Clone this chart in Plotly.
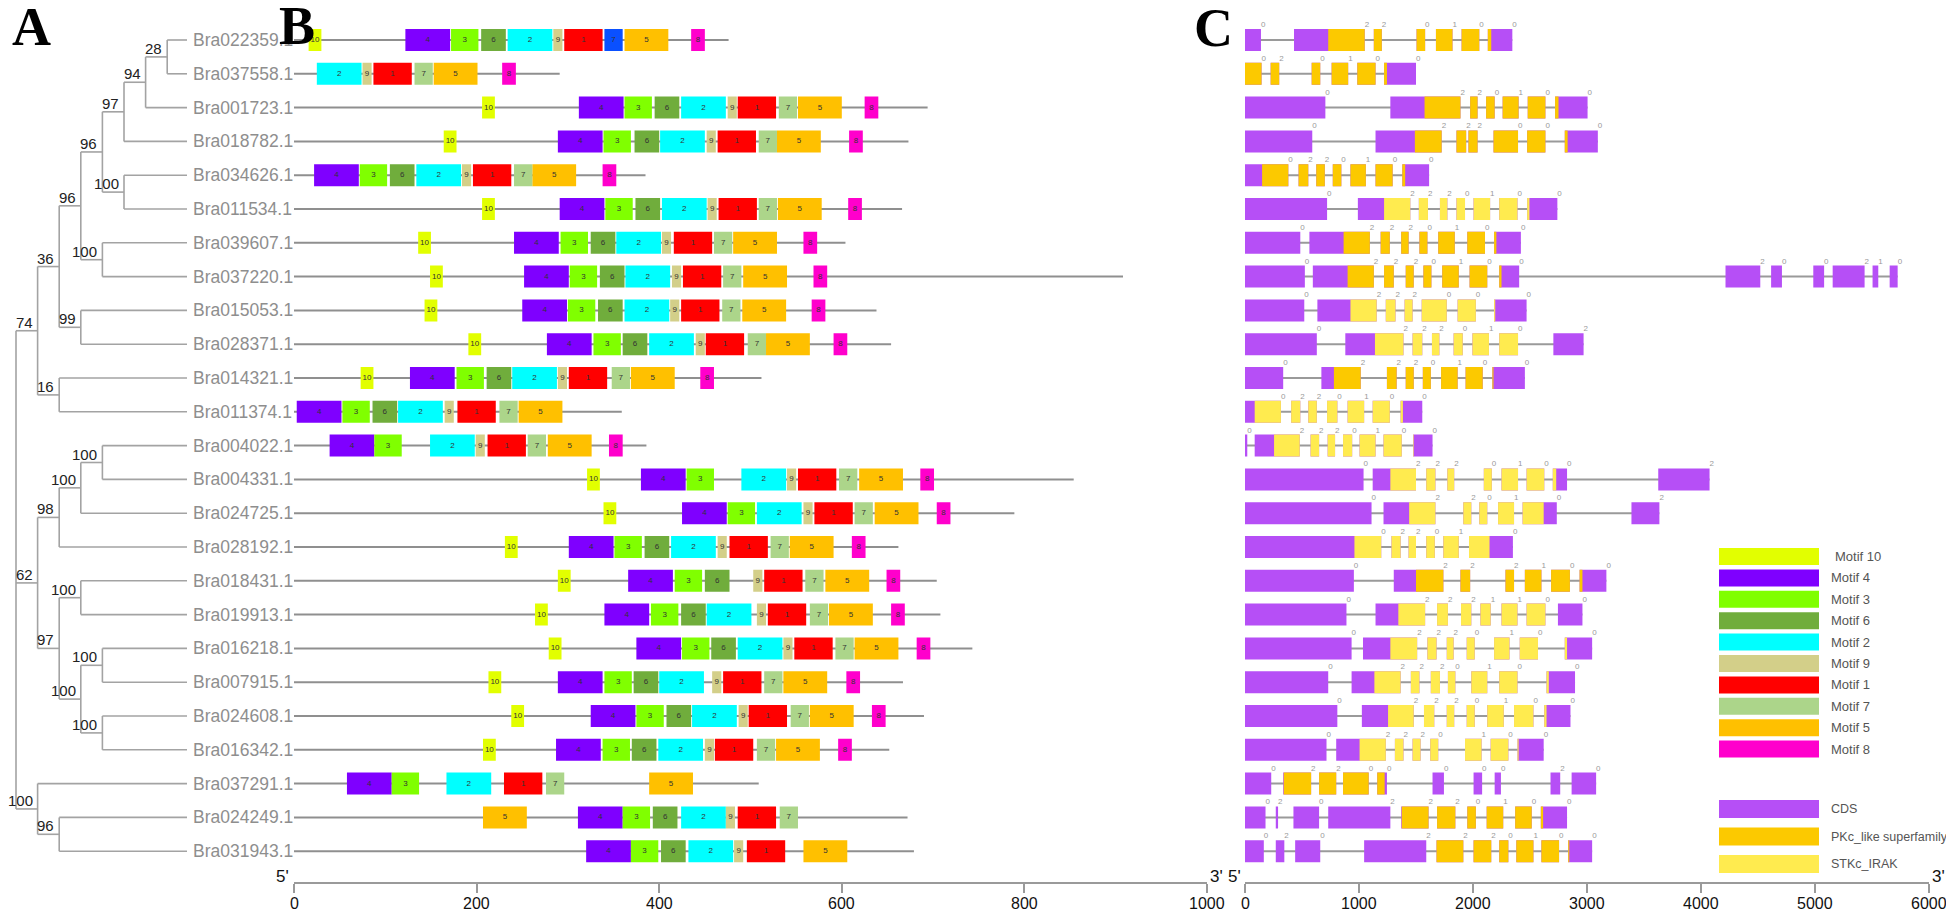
import plotly.graph_objects as go

W, H = 1946, 915

GENES = ["Bra022359.1", "Bra037558.1", "Bra001723.1", "Bra018782.1", "Bra034626.1",
         "Bra011534.1", "Bra039607.1", "Bra037220.1", "Bra015053.1", "Bra028371.1",
         "Bra014321.1", "Bra011374.1", "Bra004022.1", "Bra004331.1", "Bra024725.1",
         "Bra028192.1", "Bra018431.1", "Bra019913.1", "Bra016218.1", "Bra007915.1",
         "Bra024608.1", "Bra016342.1", "Bra037291.1", "Bra024249.1", "Bra031943.1"]

# ---- Panel A: tree topology with bootstrap values ----
TREE = (None, [
    (74, [
        (36, [
            (96, [
                (96, [
                    (97, [
                        (94, [(28, ["Bra022359.1", "Bra037558.1"]), "Bra001723.1"]),
                        "Bra018782.1"]),
                    (100, ["Bra034626.1", "Bra011534.1"])]),
                (100, ["Bra039607.1", "Bra037220.1"])]),
            (99, ["Bra015053.1", "Bra028371.1"])]),
        (16, ["Bra014321.1", "Bra011374.1"])]),
    (62, [
        (98, [
            (100, [(100, ["Bra004022.1", "Bra004331.1"]), "Bra024725.1"]),
            "Bra028192.1"]),
        (97, [
            (100, ["Bra018431.1", "Bra019913.1"]),
            (100, [(100, ["Bra016218.1", "Bra007915.1"]),
                   (100, ["Bra024608.1", "Bra016342.1"])])])]),
    (100, ["Bra037291.1", (96, ["Bra024249.1", "Bra031943.1"])]),
])

# ---- Panel B: protein lengths and motif start positions (aa) ----
PROT_LEN = [476, 291, 694, 673, 385, 666, 604, 908, 638, 654, 512, 359, 386,
            854, 789, 662, 704, 708, 743, 667, 690, 652, 509, 672, 679]

MOTIF_LEN = {1: 42, 2: 49, 3: 30, 4: 49, 5: 48, 6: 27, 7: 20, 8: 15, 9: 10, 10: 14}

MOTIFS = [
    [(10, 16), (4, 122), (3, 172), (6, 205), (2, 234), (9, 284), (1, 296), (7, 340), (5, 362), (8, 435)],
    [(2, 25), (9, 75), (1, 87), (7, 132), (5, 153), (8, 228)],
    [(10, 206), (4, 312), (3, 362), (6, 395), (2, 424), (9, 475), (1, 486), (7, 531), (5, 552), (8, 625)],
    [(10, 164), (4, 289), (3, 339), (6, 373), (2, 401), (9, 452), (1, 464), (7, 509), (5, 529), (8, 608)],
    [(4, 22), (3, 72), (6, 105), (2, 134), (9, 184), (1, 196), (7, 241), (5, 261), (8, 338)],
    [(10, 206), (4, 291), (3, 341), (6, 374), (2, 403), (9, 453), (1, 465), (7, 509), (5, 530), (8, 607)],
    [(10, 136), (4, 241), (3, 292), (6, 325), (2, 353), (9, 403), (1, 416), (7, 460), (5, 481), (8, 558)],
    [(10, 149), (4, 252), (3, 302), (6, 335), (2, 363), (9, 414), (1, 426), (7, 470), (5, 492), (8, 569)],
    [(10, 143), (4, 250), (3, 300), (6, 333), (2, 362), (9, 412), (1, 424), (7, 469), (5, 491), (8, 567)],
    [(10, 191), (4, 277), (3, 328), (6, 360), (2, 389), (9, 440), (1, 451), (7, 497), (5, 517), (8, 591)],
    [(10, 73), (4, 127), (3, 178), (6, 211), (2, 239), (9, 289), (1, 301), (7, 348), (5, 369), (8, 445)],
    [(4, 3), (3, 53), (6, 86), (2, 114), (9, 165), (1, 179), (7, 225), (5, 246)],
    [(4, 39), (3, 88), (2, 149), (9, 199), (1, 212), (7, 256), (5, 278), (8, 345)],
    [(10, 321), (4, 380), (3, 430), (2, 490), (9, 540), (1, 552), (7, 597), (5, 619), (8, 686)],
    [(10, 339), (4, 425), (3, 475), (2, 507), (9, 558), (1, 570), (7, 614), (5, 636), (8, 704)],
    [(10, 231), (4, 301), (3, 351), (6, 384), (2, 413), (9, 464), (1, 477), (7, 522), (5, 543), (8, 611)],
    [(10, 289), (4, 366), (3, 417), (6, 450), (9, 503), (1, 515), (7, 560), (5, 582), (8, 649)],
    [(10, 264), (4, 340), (3, 391), (6, 424), (2, 452), (9, 507), (1, 519), (7, 565), (5, 586), (8, 654)],
    [(10, 279), (4, 375), (3, 425), (6, 457), (2, 486), (9, 536), (1, 548), (7, 593), (5, 614), (8, 682)],
    [(10, 213), (4, 289), (3, 340), (6, 372), (2, 400), (9, 458), (1, 470), (7, 515), (5, 536), (8, 605)],
    [(10, 238), (4, 325), (3, 375), (6, 408), (2, 436), (9, 487), (1, 498), (7, 544), (5, 565), (8, 633)],
    [(10, 207), (4, 287), (3, 338), (6, 370), (2, 399), (9, 450), (1, 461), (7, 507), (5, 528), (8, 596)],
    [(4, 58), (3, 107), (2, 167), (1, 230), (7, 276), (5, 389)],
    [(5, 207), (4, 311), (3, 360), (6, 393), (2, 424), (9, 473), (1, 486), (7, 532)],
    [(4, 320), (3, 369), (6, 402), (2, 432), (9, 482), (1, 496), (5, 558)],
]

MOTIF_COLOR = {10: "#e2ff00", 4: "#7f00ff", 3: "#80ff00", 6: "#70ad3c", 2: "#00ffff",
               9: "#d3cf89", 1: "#ff0000", 7: "#acd58a", 5: "#ffc000", 8: "#ff00cc"}
COLOR_OVERRIDE = {(0, 7): "#0a50ff"}
LEGEND_ORDER = [10, 4, 3, 6, 2, 9, 1, 7, 5, 8]

# ---- Panel C: exon coordinates (bp), intron phases and conserved domain ----
EXONS = [
    [(0, 140), (430, 1050), (1130, 1200), (1505, 1580), (1675, 1820), (1900, 2055), (2130, 2345)],
    [(0, 145), (225, 300), (585, 660), (760, 905), (985, 1145), (1220, 1500)],
    [(0, 705), (1275, 1890), (1975, 2040), (2115, 2190), (2260, 2400), (2480, 2635), (2720, 3005)],
    [(0, 590), (1145, 1725), (1855, 1940), (1960, 2040), (2180, 2395), (2475, 2635), (2805, 3095)],
    [(0, 380), (470, 555), (625, 700), (770, 845), (925, 1060), (1145, 1295), (1380, 1615)],
    [(0, 720), (990, 1450), (1525, 1605), (1710, 1775), (1855, 1930), (2005, 2150), (2230, 2390), (2475, 2740)],
    [(0, 485), (565, 1095), (1190, 1270), (1370, 1435), (1530, 1600), (1695, 1840), (1950, 2105), (2185, 2420)],
    [(0, 525), (595, 1130), (1220, 1305), (1410, 1480), (1565, 1635), (1730, 1875), (1970, 2125), (2230, 2405),
     (4215, 4520), (4615, 4710), (4985, 5080), (5155, 5435), (5505, 5555), (5655, 5725)],
    [(0, 520), (635, 1155), (1235, 1320), (1400, 1470), (1550, 1770), (1865, 2025), (2185, 2470)],
    [(0, 630), (880, 1390), (1470, 1555), (1640, 1705), (1830, 1910), (1995, 2140), (2230, 2395), (2705, 2970)],
    [(0, 335), (670, 1015), (1245, 1330), (1410, 1480), (1560, 1630), (1720, 1865), (1935, 2085), (2170, 2455)],
    [(0, 315), (405, 485), (555, 630), (720, 810), (900, 1045), (1120, 1270), (1365, 1555)],
    [(0, 20), (85, 480), (575, 650), (725, 790), (860, 940), (1005, 1145), (1215, 1375), (1475, 1645)],
    [(0, 1040), (1120, 1500), (1590, 1670), (1775, 1835), (2095, 2165), (2250, 2395), (2470, 2625), (2700, 2825),
     (3625, 4075)],
    [(0, 1110), (1215, 1670), (1915, 1985), (2055, 2125), (2220, 2360), (2435, 2735), (3390, 3635)],
    [(0, 1195), (1285, 1365), (1435, 1500), (1590, 1665), (1740, 1875), (1965, 2350)],
    [(0, 955), (1305, 1740), (1890, 1975), (2285, 2360), (2455, 2600), (2685, 2850), (2935, 3170)],
    [(0, 890), (1145, 1580), (1685, 1780), (1895, 1985), (2065, 2155), (2250, 2390), (2470, 2635), (2745, 2960)],
    [(0, 935), (1035, 1510), (1600, 1680), (1770, 1830), (1945, 2015), (2185, 2320), (2410, 2570), (2805, 3045)],
    [(0, 730), (935, 1365), (1455, 1530), (1630, 1710), (1780, 1845), (1985, 2125), (2230, 2390), (2645, 2895)],
    [(0, 810), (1025, 1480), (1570, 1660), (1770, 1835), (1945, 2015), (2125, 2270), (2360, 2530), (2625, 2855)],
    [(0, 715), (800, 1235), (1315, 1390), (1470, 1540), (1625, 1695), (1930, 2075), (2155, 2310), (2390, 2620)],
    [(0, 230), (335, 580), (650, 800), (860, 1085), (1160, 1245), (1645, 1745), (2005, 2080), (2190, 2245),
     (2680, 2765), (2865, 3080)],
    [(0, 180), (270, 290), (425, 650), (730, 1275), (1370, 1610), (1685, 1845), (1950, 2025), (2120, 2265),
     (2370, 2515), (2595, 2825)],
    [(0, 165), (270, 345), (440, 660), (1045, 1590), (1680, 1915), (2005, 2160), (2230, 2310), (2380, 2530),
     (2600, 2755), (2835, 3045)],
]
PHASES = [
    [0, 2, 2, 0, 1, 0, 0], [0, 2, 0, 1, 0, 0], [0, 2, 2, 0, 1, 0, 0], [0, 2, 2, 2, 0, 0, 0],
    [0, 2, 2, 0, 1, 0, 0], [0, 2, 2, 2, 0, 1, 0, 0], [0, 2, 2, 2, 0, 1, 0, 0],
    [0, 2, 2, 2, 0, 1, 0, 0, 2, 0, 0, 2, 1, 0], [0, 2, 2, 2, 0, 0, 0], [0, 2, 2, 2, 0, 1, 0, 2],
    [0, 2, 2, 2, 0, 1, 0, 0], [0, 2, 2, 0, 1, 0, 0], [0, 2, 2, 2, 0, 1, 0, 0],
    [0, 2, 2, 2, 0, 1, 0, 0, 2], [0, 2, 2, 0, 1, 0, 2], [0, 2, 2, 0, 1, 0], [0, 2, 2, 2, 1, 0, 0],
    [0, 2, 2, 2, 1, 1, 0, 0], [0, 2, 2, 2, 0, 1, 0, 0], [0, 2, 2, 2, 0, 1, 0, 0], [0, 2, 2, 2, 0, 1, 0, 0],
    [0, 2, 2, 2, 0, 1, 0, 0], [0, 2, 2, 0, 0, 0, 0, 0, 2, 0], [0, 2, 0, 2, 2, 2, 0, 1, 0, 0],
    [0, 2, 0, 2, 2, 2, 0, 1, 0, 0],
]
DOMAINS = [
    ("PKc", 730, 2160), ("PKc", 0, 1245), ("PKc", 1575, 2750), ("PKc", 1490, 2830), ("PKc", 150, 1405),
    ("STKc", 1220, 2495), ("PKc", 865, 2205), ("PKc", 900, 2250), ("STKc", 925, 2195), ("STKc", 1140, 2395),
    ("PKc", 780, 2180), ("STKc", 85, 1385), ("STKc", 255, 1480), ("STKc", 1275, 2730), ("STKc", 1440, 2620),
    ("STKc", 960, 2145), ("PKc", 1500, 2960), ("STKc", 1345, 2635), ("STKc", 1275, 2825), ("STKc", 1135, 2665),
    ("STKc", 1255, 2645), ("STKc", 1005, 2400), ("PKc", 340, 1225), ("PKc", 1375, 2615), ("PKc", 1680, 2845),
]
FEATURE_COLOR = {"CDS": "#b64ff6", "PKc": "#fcc900", "STKc": "#ffeb4f"}
FEATURE_NAMES = [("CDS", "CDS"), ("PKc", "PKc_like superfamily"), ("STKc", "STKc_IRAK")]

B_TICKS = [0, 200, 400, 600, 800, 1000]
C_TICKS = [0, 1000, 2000, 3000, 4000, 5000, 6000]

# ---------------- layout geometry (pixels) ----------------
ROW0, ROWH = 40.0, 33.8
Y_TOP = -ROW0 / ROWH
Y_BOT = (H - ROW0) / ROWH
HALF = 0.325
AXIS_Y = 883
B_X0, B_X1 = 294, 1207
C_X0, C_X1 = 1245, 1929
TREE_X0, TREE_DX, LEAF_X = 16, 21.6, 187
SANS = "Liberation Sans, Arial, sans-serif"

fig = go.Figure()
annotations = []
shapes = []

# ---------------- Panel A ----------------
tx, ty = [], []


def place(node, depth):
    if isinstance(node, str):
        return GENES.index(node), True
    boot, children = node
    x = TREE_X0 + TREE_DX * depth
    res = [place(c, depth + 1) for c in children]
    ys = [r[0] for r in res]
    tx.extend([x, x, None])
    ty.extend([ys[0], ys[-1], None])
    for (cy, leaf) in res:
        cx = LEAF_X if leaf else TREE_X0 + TREE_DX * (depth + 1)
        tx.extend([x, cx, None])
        ty.extend([cy, cy, None])
    y = (ys[0] + ys[-1]) / 2.0
    if boot is not None:
        annotations.append(dict(x=x, y=y, xref="x", yref="y", text=str(boot), showarrow=False,
                                xanchor="right", yanchor="bottom", xshift=-3, yshift=-2,
                                font=dict(family=SANS, size=15, color="#222222")))
    return y, False


place(TREE, 0)
fig.add_trace(go.Scatter(x=tx, y=ty, mode="lines", line=dict(color="#a3a3a3", width=1.6),
                         hoverinfo="skip", xaxis="x", yaxis="y"))
for i, g in enumerate(GENES):
    annotations.append(dict(x=LEAF_X + 4, y=i, xref="x", yref="y", text=g, showarrow=False,
                            xanchor="left", yanchor="middle",
                            font=dict(family=SANS, size=17.5, color="#8e8e8e")))

# ---------------- Panel B ----------------
lx, ly = [], []
for i, L in enumerate(PROT_LEN):
    lx.extend([0, L, None])
    ly.extend([i, i, None])
fig.add_trace(go.Scatter(x=lx, y=ly, mode="lines", line=dict(color="#8f8f8f", width=2),
                         hoverinfo="skip", xaxis="x2", yaxis="y"))

polys = {}
lab_x, lab_y, lab_t = [], [], []
for i, row in enumerate(MOTIFS):
    for m, s in row:
        c = COLOR_OVERRIDE.get((i, m), MOTIF_COLOR[m])
        e = s + MOTIF_LEN[m]
        px, py = polys.setdefault(c, ([], []))
        px.extend([s, e, e, s, s, None])
        py.extend([i - HALF, i - HALF, i + HALF, i + HALF, i - HALF, None])
        lab_x.append((s + e) / 2)
        lab_y.append(i)
        lab_t.append(str(m))
for c, (px, py) in polys.items():
    fig.add_trace(go.Scatter(x=px, y=py, mode="lines", fill="toself", fillcolor=c,
                             line=dict(width=0, color=c), hoverinfo="skip", xaxis="x2", yaxis="y"))
fig.add_trace(go.Scatter(x=lab_x, y=lab_y, mode="text", text=lab_t,
                         textfont=dict(family=SANS, size=8, color="#333333"),
                         hoverinfo="skip", xaxis="x2", yaxis="y"))

# ---------------- Panel C ----------------
ix, iy = [], []
for i, ex in enumerate(EXONS):
    ix.extend([0, ex[-1][1], None])
    iy.extend([i, i, None])
fig.add_trace(go.Scatter(x=ix, y=iy, mode="lines", line=dict(color="#9a9a9a", width=2),
                         hoverinfo="skip", xaxis="x3", yaxis="y"))

cpolys = {k: ([], []) for k in FEATURE_COLOR}
ph_x, ph_y, ph_t = [], [], []


def add_rect(key, a, b, i):
    px, py = cpolys[key]
    px.extend([a, b, b, a, a, None])
    py.extend([i - HALF, i - HALF, i + HALF, i + HALF, i - HALF, None])


for i, ex in enumerate(EXONS):
    dkey, d0, d1 = DOMAINS[i]
    for k, (a, b) in enumerate(ex):
        add_rect("CDS", a, b, i)
        lo, hi = max(a, d0), min(b, d1)
        if hi > lo:
            add_rect(dkey, lo, hi, i)
        ph_x.append(b)
        ph_y.append(i - HALF)
        ph_t.append(str(PHASES[i][k]))
for key in ["CDS", "PKc", "STKc"]:
    px, py = cpolys[key]
    fig.add_trace(go.Scatter(x=px, y=py, mode="lines", fill="toself", fillcolor=FEATURE_COLOR[key],
                             line=dict(width=0, color=FEATURE_COLOR[key]), hoverinfo="skip",
                             xaxis="x3", yaxis="y"))
fig.add_trace(go.Scatter(x=ph_x, y=ph_y, mode="text", text=ph_t, textposition="top right",
                         textfont=dict(family=SANS, size=8, color="#9a9a9a"),
                         hoverinfo="skip", xaxis="x3", yaxis="y"))

# ---------------- Legend (pixel coordinates) ----------------
for k, m in enumerate(LEGEND_ORDER):
    y0 = 548 + 21.4 * k
    shapes.append(dict(type="rect", xref="x", yref="y2", x0=1719, x1=1819, y0=y0, y1=y0 + 17,
                       fillcolor=MOTIF_COLOR[m], line=dict(width=0)))
    annotations.append(dict(x=1833 if m == 10 else 1829, y=y0 + 8.5, xref="x", yref="y2",
                            text="Motif %d" % m, showarrow=False, xanchor="left", yanchor="middle",
                            font=dict(family=SANS, size=13, color="#555555")))
for k, (key, name) in enumerate(FEATURE_NAMES):
    y0 = 800 + 27.5 * k
    shapes.append(dict(type="rect", xref="x", yref="y2", x0=1719, x1=1819, y0=y0, y1=y0 + 18,
                       fillcolor=FEATURE_COLOR[key], line=dict(width=0)))
    annotations.append(dict(x=1829, y=y0 + 9, xref="x", yref="y2", text=name, showarrow=False,
                            xanchor="left", yanchor="middle",
                            font=dict(family=SANS, size=12.5, color="#555555")))

# panel letters
for letter, cx, cy in [("A", 31, 27), ("B", 297, 26), ("C", 1213, 28)]:
    annotations.append(dict(x=cx, y=cy, xref="x", yref="y2", text="<b>%s</b>" % letter,
                            showarrow=False, xanchor="center", yanchor="middle",
                            font=dict(family="Liberation Serif, Times New Roman, serif", size=54,
                                      color="#000000")))
# 5' / 3' marks
for txt, px_, anchor in [("5'", B_X0 - 3, "right"), ("3'", B_X1 + 1, "left"),
                         ("5'", C_X0 - 2, "right"), ("3'", C_X1 + 1, "left")]:
    annotations.append(dict(x=px_, y=AXIS_Y - 7, xref="x", yref="y2", text=txt, showarrow=False,
                            xanchor=anchor, yanchor="middle",
                            font=dict(family=SANS, size=17, color="#111111")))
# tick labels
for xa, ticks in [("x2", B_TICKS), ("x3", C_TICKS)]:
    for t in ticks:
        annotations.append(dict(x=t, y=AXIS_Y + 20, xref=xa, yref="y2", text=str(t), showarrow=False,
                                xanchor="center", yanchor="middle",
                                font=dict(family=SANS, size=16, color="#111111")))

axis_style = dict(anchor="free", position=(H - AXIS_Y) / H, showline=True, linecolor="#9a9a9a",
                  linewidth=2, ticks="outside", ticklen=9, tickwidth=1.5, tickcolor="#9a9a9a",
                  showgrid=False, zeroline=False, showticklabels=False)

fig.update_layout(
    width=W, height=H, margin=dict(l=0, r=0, t=0, b=0),
    paper_bgcolor="white", plot_bgcolor="white", showlegend=False,
    xaxis=dict(domain=[0, 1], range=[0, W], visible=False),
    xaxis2=dict(domain=[B_X0 / W, B_X1 / W], range=[0, 1000], tickvals=B_TICKS, **axis_style),
    xaxis3=dict(domain=[C_X0 / W, C_X1 / W], range=[0, 6000], tickvals=C_TICKS, **axis_style),
    yaxis=dict(domain=[0, 1], range=[Y_BOT, Y_TOP], visible=False),
    yaxis2=dict(domain=[0, 1], range=[H, 0], visible=False, overlaying="y"),
    shapes=shapes, annotations=annotations,
)
fig.write_html("out.html", config={"displayModeBar": False},
               post_script="document.body.style.margin='0px';document.body.style.overflow='hidden';")
